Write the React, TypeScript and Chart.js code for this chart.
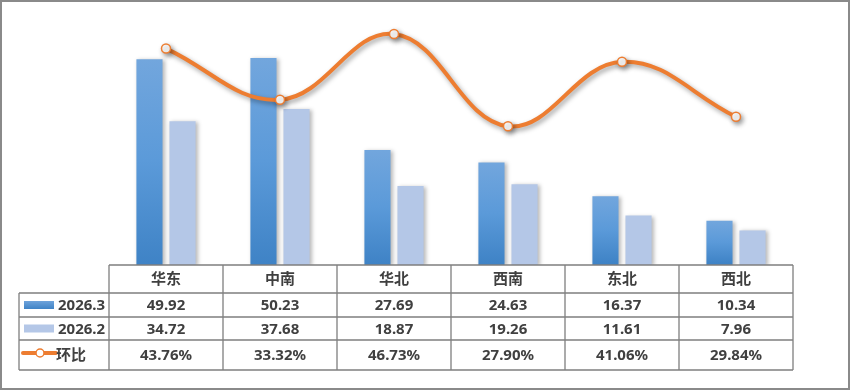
import React, { useEffect, useRef } from "react";
import { Chart, registerables } from "chart.js";

Chart.register(...registerables);

const categories = ["华东", "中南", "华北", "西南", "东北", "西北"];
const seriesLabels = ["2026.3", "2026.2", "环比"];
const march = [49.92, 50.23, 27.69, 24.63, 16.37, 10.34];
const feb = [34.72, 37.68, 18.87, 19.26, 11.61, 7.96];
const mom = [43.76, 33.32, 46.73, 27.9, 41.06, 29.84];

const W = 851;
const H = 391;
const ORANGE = "#ed7d31";
const LIGHT = "#b4c7e7";
const TEXT = "#404040";
const GRID = "#7f7f7f";
const FONT = 'bold 15px "Noto Sans", "Noto Sans CJK SC", sans-serif';

const shadowPlugin = {
  id: "shadows",
  beforeDatasetDraw(chart: any, args: any) {
    const ctx = chart.ctx;
    ctx.save();
    const isLine = chart.data.datasets[args.index].type === "line";
    ctx.shadowColor = isLine ? "rgba(0,0,0,0.38)" : "rgba(0,0,0,0.28)";
    ctx.shadowBlur = isLine ? 5 : 4;
    ctx.shadowOffsetX = isLine ? 2 : 2;
    ctx.shadowOffsetY = isLine ? 2.5 : 1;
  },
  afterDatasetDraw(chart: any) {
    chart.ctx.restore();
  },
};

const tablePlugin = {
  id: "dataTable",
  beforeDraw(chart: any) {
    const ctx = chart.ctx;
    ctx.save();
    ctx.fillStyle = "#ffffff";
    ctx.fillRect(0, 0, chart.width, chart.height);
    ctx.restore();
  },
  afterDraw(chart: any) {
    const ctx = chart.ctx;
    const xs = chart.scales.x;
    const area = chart.chartArea;
    const left = area.left;
    const right = area.right;
    const colW = (right - left) / categories.length;
    const top = area.bottom;
    const rowH = [28, 24, 23, 30];
    const ys: number[] = [top];
    rowH.forEach((h, i) => ys.push(ys[i] + h));
    const legLeft = 19;

    ctx.save();
    // outer border
    ctx.strokeStyle = "#8a8a8a";
    ctx.lineWidth = 2;
    ctx.strokeRect(1, 1, chart.width - 3, chart.height - 3);

    // grid lines
    ctx.strokeStyle = GRID;
    ctx.lineWidth = 1.3;
    ctx.beginPath();
    ctx.moveTo(left, ys[0]);
    ctx.lineTo(right, ys[0]);
    for (let r = 1; r < ys.length; r++) {
      ctx.moveTo(legLeft, ys[r]);
      ctx.lineTo(right, ys[r]);
    }
    for (let i = 0; i <= categories.length; i++) {
      const x = left + i * colW;
      ctx.moveTo(x, ys[0]);
      ctx.lineTo(x, ys[ys.length - 1]);
    }
    ctx.moveTo(legLeft, ys[1]);
    ctx.lineTo(legLeft, ys[ys.length - 1]);
    ctx.stroke();

    ctx.fillStyle = TEXT;
    ctx.font = FONT;
    ctx.textAlign = "center";
    ctx.textBaseline = "middle";
    const rowsData = [
      march.map((v) => v.toFixed(2)),
      feb.map((v) => v.toFixed(2)),
      mom.map((v) => v.toFixed(2) + "%"),
    ];
    categories.forEach((c, i) => {
      const cx = xs.getPixelForValue(i);
      ctx.fillText(c, cx, (ys[0] + ys[1]) / 2 + 1);
      rowsData.forEach((row, r) => {
        ctx.fillText(row[i], cx, (ys[r + 1] + ys[r + 2]) / 2 + 1);
      });
    });

    // legend keys
    ctx.textAlign = "left";
    const keyX = legLeft + 5;
    const keyW = 30;
    const c1 = (ys[1] + ys[2]) / 2;
    const g = ctx.createLinearGradient(0, c1 - 4, 0, c1 + 4);
    g.addColorStop(0, "#6ea3db");
    g.addColorStop(1, "#3f83c6");
    ctx.fillStyle = g;
    ctx.fillRect(keyX, c1 - 4, keyW, 8);
    ctx.fillStyle = TEXT;
    ctx.fillText(seriesLabels[0], keyX + keyW + 4, c1 + 1);
    const c2 = (ys[2] + ys[3]) / 2;
    ctx.fillStyle = LIGHT;
    ctx.fillRect(keyX, c2 - 4, keyW, 8);
    ctx.fillStyle = TEXT;
    ctx.fillText(seriesLabels[1], keyX + keyW + 4, c2 + 1);
    const c3 = (ys[3] + ys[4]) / 2 - 2;
    ctx.strokeStyle = ORANGE;
    ctx.lineWidth = 4;
    ctx.lineCap = "round";
    ctx.beginPath();
    ctx.moveTo(keyX - 1, c3);
    ctx.lineTo(keyX + keyW + 2, c3);
    ctx.stroke();
    ctx.beginPath();
    ctx.arc(keyX + keyW / 2 + 1, c3, 4, 0, Math.PI * 2);
    ctx.fillStyle = "#ffffff";
    ctx.fill();
    ctx.lineWidth = 1.5;
    ctx.stroke();
    ctx.fillStyle = TEXT;
    ctx.fillText(seriesLabels[2], keyX + keyW + 2, c3 + 3);
    ctx.restore();
  },
};

export default function App() {
  const ref = useRef<HTMLCanvasElement | null>(null);

  useEffect(() => {
    document.body.style.margin = "0";
    const canvas = ref.current;
    if (!canvas) return;
    const chart = new Chart(canvas, {
      type: "bar",
      data: {
        labels: categories,
        datasets: [
          {
            type: "line",
            label: seriesLabels[2],
            data: mom,
            yAxisID: "y1",
            borderColor: ORANGE,
            borderWidth: 4,
            tension: 0.4,
            pointRadius: 4.5,
            pointBorderWidth: 1.5,
            pointBackgroundColor: "#ffffff",
            pointBorderColor: ORANGE,
            order: 0,
            clip: false,
          } as any,
          {
            type: "bar",
            label: seriesLabels[0],
            data: march,
            yAxisID: "y",
            base: -0.5,
            backgroundColor: (c: any) => {
              const ch = c.chart;
              const y = ch.scales && ch.scales.y;
              if (!ch.chartArea || !y || typeof c.raw !== "number") return "#5b9bd5";
              const t = y.getPixelForValue(c.raw);
              const b = y.getPixelForValue(0);
              const g = ch.ctx.createLinearGradient(0, t, 0, b);
              g.addColorStop(0, "#72a6dd");
              g.addColorStop(0.5, "#5b9ad9");
              g.addColorStop(1, "#3f83c6");
              return g;
            },
            categoryPercentage: 0.58,
            barPercentage: 0.79,
            order: 1,
          } as any,
          {
            type: "bar",
            label: seriesLabels[1],
            data: feb,
            yAxisID: "y",
            base: -0.5,
            backgroundColor: LIGHT,
            categoryPercentage: 0.58,
            barPercentage: 0.79,
            order: 1,
          } as any,
        ],
      },
      options: {
        responsive: false,
        animation: false,
        devicePixelRatio: 1,
        layout: { padding: { left: 109, right: 58, top: 18, bottom: 126 } },
        plugins: { legend: { display: false }, tooltip: { enabled: false } },
        scales: {
          x: { type: "category", display: false, offset: true },
          y: { display: false, min: -0.5, max: 60 },
          y1: { display: false, min: -0.41, max: 50, position: "right" },
        },
      },
      plugins: [tablePlugin, shadowPlugin],
    });
    return () => chart.destroy();
  }, []);

  return (
    <div style={{ position: "absolute", left: 0, top: 0, width: W, height: H }}>
      <canvas ref={ref} width={W} height={H} style={{ width: W, height: H, display: "block" }} />
    </div>
  );
}
